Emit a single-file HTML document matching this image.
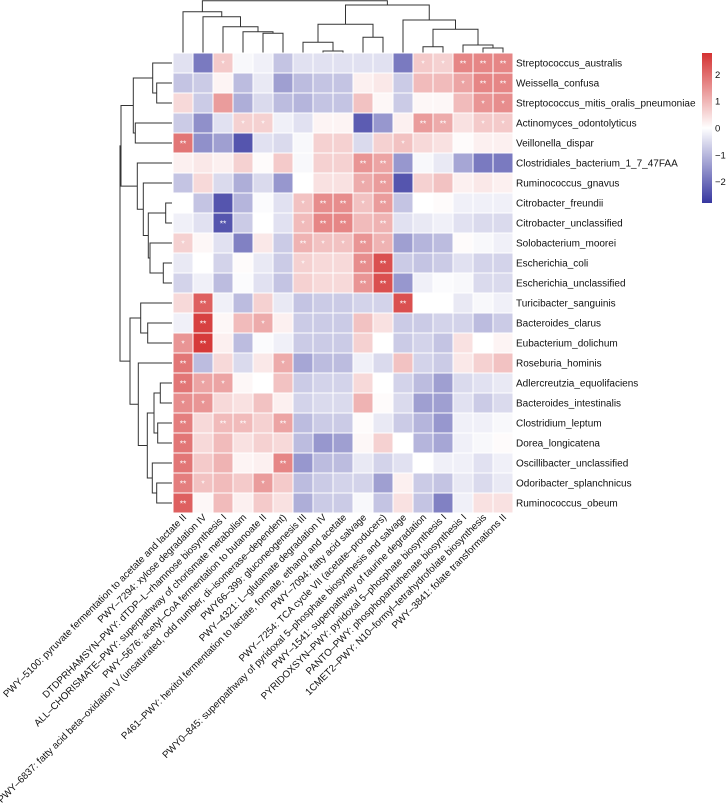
<!DOCTYPE html>
<html><head><meta charset="utf-8"><style>
html,body{margin:0;padding:0;background:#fff;}
svg{display:block;font-family:"Liberation Sans",Arial,sans-serif;}
</style></head><body>
<svg id="chart" width="727" height="812" viewBox="0 0 727 812" xmlns="http://www.w3.org/2000/svg">
<defs><linearGradient id="cbg" x1="0" y1="1" x2="0" y2="0">
<stop offset="0" stop-color="rgb(55,55,160)"/><stop offset="0.5" stop-color="#fff"/><stop offset="1" stop-color="rgb(212,50,50)"/></linearGradient></defs>
<g id="col-dendro" fill="none" stroke="#333" stroke-width="1"></g>
<g id="row-dendro" fill="none" stroke="#333" stroke-width="1"></g>
<g id="cells"></g>
<g id="rowlabels"></g>
<g id="collabels"></g>
<g id="legend"></g>
</svg>
<script>
const rowNames=["Streptococcus_australis","Weissella_confusa","Streptococcus_mitis_oralis_pneumoniae","Actinomyces_odontolyticus","Veillonella_dispar","Clostridiales_bacterium_1_7_47FAA","Ruminococcus_gnavus","Citrobacter_freundii","Citrobacter_unclassified","Solobacterium_moorei","Escherichia_coli","Escherichia_unclassified","Turicibacter_sanguinis","Bacteroides_clarus","Eubacterium_dolichum","Roseburia_hominis","Adlercreutzia_equolifaciens","Bacteroides_intestinalis","Clostridium_leptum","Dorea_longicatena","Oscillibacter_unclassified","Odoribacter_splanchnicus","Ruminococcus_obeum"];
const colNames=["PWY\u20135100: pyruvate fermentation to acetate and lactate II","PWY\u20137294: xylose degradation IV","DTDPRHAMSYN\u2013PWY: dTDP\u2013L\u2013rhamnose biosynthesis I","ALL\u2013CHORISMATE\u2013PWY: superpathway of chorismate metabolism","PWY\u20135676: acetyl\u2013CoA fermentation to butanoate II","PWY\u20136837: fatty acid beta\u2013oxidation V (unsaturated, odd number, di\u2013isomerase\u2013dependent)","PWY66\u2013399: gluconeogenesis III","PWY\u20134321: L\u2013glutamate degradation IV","P461\u2013PWY: hexitol fermentation to lactate, formate, ethanol and acetate","PWY\u20137094: fatty acid salvage","PWY\u20137254: TCA cycle VII (acetate\u2013producers)","PWY0\u2013845: superpathway of pyridoxal 5\u2013phosphate biosynthesis and salvage","PWY\u20131541: superpathway of taurine degradation","PYRIDOXSYN\u2013PWY: pyridoxal 5\u2013phosphate biosynthesis I","PANTO\u2013PWY: phosphopantothenate biosynthesis I","1CMET2\u2013PWY: N10\u2013formyl\u2013tetrahydrofolate biosynthesis","PWY\u20133841: folate transformations II"];
const values=[
[-0.4,-1.8,0.7,-0.1,-0.2,-0.8,-0.4,-0.4,-0.4,-0.4,-0.4,-1.8,0.7,0.6,1.6,1.6,1.6],
[-0.8,-0.7,0.15,-0.9,-0.3,-1.3,-0.9,-0.8,-0.8,0.2,0.3,-0.7,0.9,0.9,1.2,1.6,1.6],
[0.5,-0.7,1.3,-1.1,-0.5,-0.9,-1.0,-0.8,-0.8,0.8,0.1,-0.7,0.1,0.1,0.9,1.4,1.5],
[-0.7,-1.5,-0.4,0.6,0.6,-0.2,-0.4,0.15,0.15,-2.2,-1.4,0.2,1.3,1.1,0.4,0.7,0.7],
[1.8,-1.5,-1.3,-2.3,-0.4,-0.5,-0.1,0.6,0.6,-0.5,0.6,0.8,0.5,0.4,0.05,0.2,0.2],
[0.2,0.3,0.2,0.6,0.05,0.7,-0.1,0.6,0.6,1.4,1.2,-1.4,-0.1,-0.3,-1.2,-1.8,-1.8],
[-0.8,0.5,-0.5,-1.1,-0.5,-1.4,0.0,0.4,0.4,1.1,1.3,-2.3,0.6,0.8,0.2,0.3,0.2],
[0.0,-0.8,-2.3,-1.0,-0.05,-0.4,0.8,1.5,1.5,0.8,1.3,-0.8,0.0,0.05,-0.2,-0.2,-0.2],
[-0.2,-0.4,-2.3,-0.7,0.0,-0.4,0.9,1.6,1.6,0.9,1.0,-0.4,-0.3,-0.2,-0.4,-0.5,-0.5],
[0.6,0.1,-0.4,-1.7,0.3,-0.7,1.0,0.8,0.8,1.4,1.0,-1.3,-1.0,-0.9,0.05,-0.1,-0.2],
[-0.3,0.0,-0.6,0.05,-0.3,-0.7,0.6,0.5,0.5,1.5,2.3,-0.7,-0.8,-0.7,-0.4,-0.6,-0.6],
[-0.6,-0.2,-0.9,-0.05,-0.4,-0.8,0.6,0.5,0.5,1.4,2.3,-1.4,-0.2,-0.05,-0.1,-0.5,-0.5],
[0.5,2.1,-0.2,-0.9,0.6,-0.3,-0.8,-0.7,-0.7,-0.6,-0.6,2.3,0.0,0.0,-0.3,-0.1,-0.2],
[-0.2,2.5,0.1,0.9,1.1,0.2,-0.7,-0.7,-0.7,0.8,0.4,-0.7,-0.7,-0.6,-0.6,-0.9,-0.7],
[1.4,2.6,0.2,-0.9,-0.05,-0.2,-0.7,-0.7,-0.7,0.6,0.0,-0.7,-0.6,-0.8,0.4,0.0,0.15],
[1.8,-0.9,0.5,-0.5,0.3,1.1,-1.2,-0.9,-0.9,-0.2,-0.5,0.8,-0.6,-0.7,0.3,0.6,0.8],
[1.8,1.2,1.2,0.1,0.0,0.8,-0.7,-0.6,-0.6,0.5,0.0,-0.6,-0.9,-1.3,-0.5,-0.4,-0.3],
[1.5,1.4,0.5,0.4,0.8,0.2,-0.6,-0.5,-0.5,1.0,0.05,-0.5,-1.3,-1.3,-0.4,-0.7,-0.5],
[1.7,0.5,0.9,0.9,0.6,1.2,-0.9,-0.7,-0.7,0.05,-0.3,-0.7,-1.0,-1.4,-0.2,-0.2,-0.1],
[1.8,0.5,0.9,0.4,0.6,0.5,-0.9,-1.4,-1.3,0.1,0.6,0.0,-1.0,-1.2,-0.2,-0.1,0.05],
[1.8,0.7,1.0,0.15,0.2,1.6,-1.4,-0.9,-0.9,-0.3,-0.6,-0.4,0.0,-0.2,-0.2,-0.4,-0.2],
[1.7,0.8,0.9,0.7,1.3,0.7,-0.9,-0.7,-0.6,-0.6,-1.3,0.2,-0.7,-0.8,-0.3,-0.5,-0.3],
[2.1,0.1,0.9,0.2,0.7,0.4,-1.1,-0.7,-0.7,-0.1,-0.8,0.4,-0.8,-1.7,-0.2,0.4,0.4]];
const signif=["00100000000011222","00000000000000122","00000000000000011","00011000000022011","20000000000100000","00000000022000000","00000000012000000","00000012212000000","00200012202000000","10000021121000000","00000010022000000","00000000022000000","02000000000200000","02001000000000000","12000000000000000","20000100000000000","21100000000000000","11000000000000000","20220200000000000","20000000000000000","20000200000000000","21001000000000000","20000000000000000"];
const legendTicks=[2,1,0,-1,-2];

const NS="http://www.w3.org/2000/svg";
const X0=173,Y0=53,CW=20,RH=20,VMAX=2.8;
const xc=c=>X0+CW*c+CW/2, yc=r=>Y0+RH*r+RH/2;
function color(v){
  const t=Math.max(-1,Math.min(1,v/2.7));
  if(t>=0){return `rgb(${Math.round(255-t*43)},${Math.round(255-t*205)},${Math.round(255-t*205)})`;}
  const s=-t;return `rgb(${Math.round(255-s*200)},${Math.round(255-s*200)},${Math.round(255-s*95)})`;
}
function mk(tag,attrs,parent){const e=document.createElementNS(NS,tag);for(const k in attrs)e.setAttribute(k,attrs[k]);parent.appendChild(e);return e;}
const cells=document.getElementById('cells');
values.forEach((row,r)=>row.forEach((v,c)=>{
  const rc=mk('rect',{x:X0+CW*c,y:Y0+RH*r,width:CW,height:RH,fill:color(v),stroke:'#fff','stroke-width':1},cells);
  
  
  const s=signif[r][c];
  if(s!=='0'){
    const t=mk('text',{x:xc(c),y:yc(r)+3.5,'text-anchor':'middle','font-size':8.5,fill:'#fff'},cells);
    t.textContent=s==='2'?'**':'*';
    
    
  }
}));
const rl=document.getElementById('rowlabels');
rowNames.forEach((n,r)=>{const t=mk('text',{x:516,y:yc(r)+3.5,'font-size':10,fill:'#111'},rl);t.textContent=n;
  
  });
const cl=document.getElementById('collabels');
colNames.forEach((n,c)=>{const x=xc(c)+4,y=518;const t=mk('text',{x:x,y:y,'font-size':9.8,fill:'#111','text-anchor':'end',transform:`rotate(-45 ${x} ${y})`},cl);t.textContent=n;
  
  });
// legend
const lg=document.getElementById('legend');
const cbTop=53,cbBot=203,cbScale=(cbBot-cbTop)/(2*VMAX);
const bar=mk('rect',{x:702,y:cbTop,width:10,height:cbBot-cbTop,fill:'url(#cbg)'},lg);


legendTicks.forEach(v=>{const y=(cbTop+cbBot)/2-v*cbScale;
  const t=mk('text',{x:715,y:y+3.5,'font-size':9.5,fill:'#111'},lg);t.textContent=v<0?'\u2212'+(-v):String(v);
  
  });
// dendrograms
function seg(g,d){const p=mk('path',{d:d},g);}
const cd=document.getElementById('col-dendro');
function cm(xa,ya,xb,yb,h){seg(cd,`M${xa},${ya}V${h}H${xb}V${yb}`);return (xa+xb)/2;}
const L=53;
let a=cm(xc(4),L,xc(5),L,33.3);a=cm(xc(3),L,a,33.3,31.7);a=cm(xc(2),L,a,31.7,26.7);a=cm(xc(1),L,a,26.7,16.7);const left=cm(xc(0),L,a,16.7,11.7);
let b=cm(xc(7),L,xc(8),L,51);b=cm(xc(6),L,b,51,42.3);let b2=cm(xc(9),L,xc(10),L,37.3);const mid=cm(b,42.3,b2,37.3,24.3);
let d1=cm(xc(12),L,xc(13),L,46.7);let d2=cm(xc(15),L,xc(16),L,48);d2=cm(xc(14),L,d2,48,45);let d3=cm(d1,46.7,d2,45,29.3);const right=cm(xc(11),L,d3,29.3,20);
const mr=cm(mid,24.3,right,20,5);cm(left,11.7,mr,5,0.8);
const rd=document.getElementById('row-dendro');
const R=172;
function rm(ya,xa,yb,xb,h){seg(rd,`M${xa},${ya}H${h}V${yb}H${xb}`);return (ya+yb)/2;}
let p=rm(yc(1),R,yc(2),R,156.7);p=rm(yc(0),R,p,156.7,152.7);let q=rm(yc(3),R,yc(4),R,135.3);const top1=rm(p,152.7,q,135.3,133.3);
let e1=rm(yc(7),R,yc(8),R,165.7);let e2=rm(yc(10),R,yc(11),R,163.3);e2=rm(yc(9),R,e2,163.3,150);e1=rm(e1,165.7,e2,150,148.3);e1=rm(yc(6),R,e1,148.3,143.3);e1=rm(yc(5),R,e1,143.3,137.3);
const topA=rm(top1,133.3,e1,137.3,121);
let f=rm(yc(13),R,yc(14),R,147.7);f=rm(yc(12),R,f,147.7,140.7);
let g1=rm(yc(16),R,yc(17),R,160.3);let g2=rm(yc(18),R,yc(19),R,157.7);g1=rm(g1,160.3,g2,157.7,154);
let h1=rm(yc(21),R,yc(22),R,156.7);h1=rm(yc(20),R,h1,156.7,152.3);g1=rm(g1,154,h1,152.3,147.3);g1=rm(yc(15),R,g1,147.3,138.3);
const bot=rm(f,140.7,g1,138.3,130);
rm(topA,121,bot,130,120);
</script>
</body></html>
